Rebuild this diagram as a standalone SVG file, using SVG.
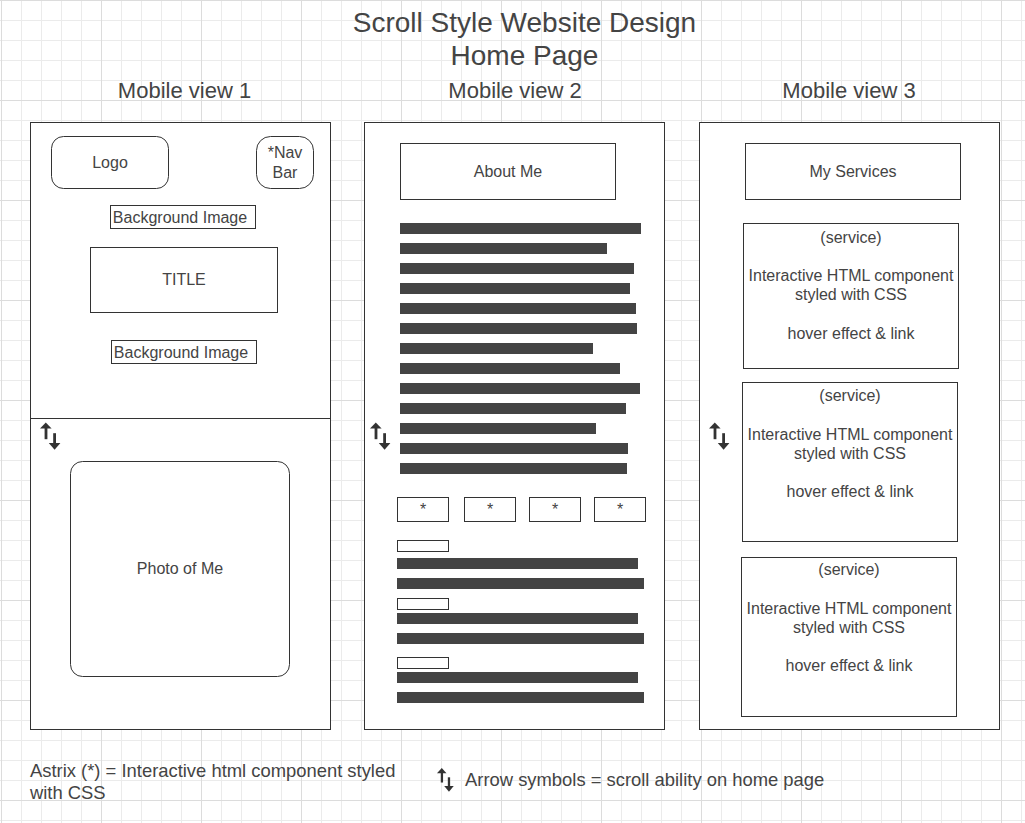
<svg xmlns="http://www.w3.org/2000/svg" xmlns:xlink="http://www.w3.org/1999/xlink" width="1025" height="823" viewBox="0 0 1025 823">
  <defs>
    <!-- background grid: 20px minor cells, 100px major cells -->
    <pattern id="grid" patternUnits="userSpaceOnUse" x="1" y="0" width="100" height="100">
      <path d="M20.5 0V100M40.5 0V100M60.5 0V100M80.5 0V100M0 20.5H100M0 40.5H100M0 60.5H100M0 80.5H100" stroke="#ebebeb" stroke-width="1" fill="none"/>
      <path d="M0.5 0V100M0 0.5H100" stroke="#dcdcdc" stroke-width="1" fill="none"/>
    </pattern>
    <!-- up/down scroll indicator -->
    <g id="scroll-icon" fill="#333">
      <path d="M0 6L5.8 0L11.6 6Z"/>
      <rect x="4.6" y="5" width="2.8" height="11.7"/>
      <rect x="13.2" y="10.7" width="2.8" height="10.5"/>
      <path d="M8.8 20.6L14.6 27.3L20.4 20.6Z"/>
    </g>
  </defs>
  <style>
    text { font-family: "Liberation Sans", Arial, sans-serif; fill: #444; }
    .title { font-size: 28px; text-anchor: middle; }
    .view { font-size: 22px; text-anchor: middle; }
    .lbl { font-size: 16px; text-anchor: middle; }
    .legend { font-size: 18.4px; }
    .box { fill: #fff; stroke: #333; stroke-width: 1; }
    .bar { fill: #444; }
  </style>

  <rect width="1025" height="823" fill="#fff"/>
  <rect width="1025" height="823" fill="url(#grid)"/>

  <g id="heading">
    <text class="title" x="524.5" y="31.5">Scroll Style Website Design</text>
    <text class="title" x="524.5" y="65">Home Page</text>
  </g>

  <!-- ===== Mobile view 1 ===== -->
  <g id="view1">
    <text class="view" x="184.5" y="98">Mobile view 1</text>
    <rect class="box" x="30.5" y="122.5" width="300" height="607"/>
    <line x1="30.5" y1="418.5" x2="330.5" y2="418.5" stroke="#333"/>
  </g>
  <g id="logo">
    <rect class="box" x="51.5" y="136.5" width="117" height="52" rx="12"/>
    <text class="lbl" x="110" y="168">Logo</text>
  </g>
  <g id="navbar">
    <rect class="box" x="256.5" y="136.5" width="57" height="52" rx="14"/>
    <text class="lbl" x="285" y="158.3">*Nav</text>
    <text class="lbl" x="285" y="178.3">Bar</text>
  </g>
  <g id="bg-image-1">
    <rect class="box" x="110.5" y="205.5" width="145" height="23"/>
    <text class="lbl" x="180" y="222.7">Background Image</text>
  </g>
  <g id="title-box">
    <rect class="box" x="90.5" y="247.5" width="187" height="65"/>
    <text class="lbl" x="184" y="285">TITLE</text>
  </g>
  <g id="bg-image-2">
    <rect class="box" x="111.5" y="340.5" width="145" height="23"/>
    <text class="lbl" x="181" y="357.7">Background Image</text>
  </g>
  <g id="scroll-1">
    <use xlink:href="#scroll-icon" x="40" y="422.5"/>
  </g>
  <g id="photo">
    <rect class="box" x="70.5" y="461.5" width="219" height="215" rx="12"/>
    <text class="lbl" x="180" y="574">Photo of Me</text>
  </g>

  <!-- ===== Mobile view 2 ===== -->
  <g id="view2">
    <text class="view" x="515" y="98">Mobile view 2</text>
    <rect class="box" x="364.5" y="122.5" width="300" height="607"/>
  </g>
  <g id="about-me">
    <rect class="box" x="400.5" y="143.5" width="215" height="56"/>
    <text class="lbl" x="508" y="177">About Me</text>
  </g>
  <g id="about-text">
    <rect class="bar" x="400" y="223" width="241" height="11"/>
    <rect class="bar" x="400" y="243" width="207" height="11"/>
    <rect class="bar" x="400" y="263" width="234" height="11"/>
    <rect class="bar" x="400" y="283" width="230" height="11"/>
    <rect class="bar" x="400" y="303" width="236" height="11"/>
    <rect class="bar" x="400" y="323" width="237" height="11"/>
    <rect class="bar" x="400" y="343" width="193" height="11"/>
    <rect class="bar" x="400" y="363" width="220" height="11"/>
    <rect class="bar" x="400" y="383" width="240" height="11"/>
    <rect class="bar" x="400" y="403" width="226" height="11"/>
    <rect class="bar" x="400" y="423" width="196" height="11"/>
    <rect class="bar" x="400" y="443" width="228" height="11"/>
    <rect class="bar" x="400" y="463" width="227" height="11"/>
  </g>
  <g id="scroll-2">
    <use xlink:href="#scroll-icon" x="370" y="422.5"/>
  </g>
  <g id="links">
    <rect class="box" x="397.5" y="497.5" width="51" height="24"/>
    <text class="lbl" x="423" y="515">*</text>
    <rect class="box" x="464.5" y="497.5" width="51" height="24"/>
    <text class="lbl" x="490" y="515">*</text>
    <rect class="box" x="529.5" y="497.5" width="51" height="24"/>
    <text class="lbl" x="555" y="515">*</text>
    <rect class="box" x="594.5" y="497.5" width="51" height="24"/>
    <text class="lbl" x="620" y="515">*</text>
  </g>
  <g id="entries">
    <rect class="box" x="397.5" y="540.5" width="51" height="11"/>
    <rect class="bar" x="397" y="558" width="241" height="11"/>
    <rect class="bar" x="397" y="578" width="247" height="11"/>
    <rect class="box" x="397.5" y="598.5" width="51" height="11"/>
    <rect class="bar" x="397" y="613" width="241" height="11"/>
    <rect class="bar" x="397" y="633" width="247" height="11"/>
    <rect class="box" x="397.5" y="657.5" width="51" height="11"/>
    <rect class="bar" x="397" y="672" width="241" height="11"/>
    <rect class="bar" x="397" y="692" width="247" height="11"/>
  </g>

  <!-- ===== Mobile view 3 ===== -->
  <g id="view3">
    <text class="view" x="849" y="98">Mobile view 3</text>
    <rect class="box" x="699.5" y="122.5" width="300" height="607"/>
  </g>
  <g id="my-services">
    <rect class="box" x="745.5" y="143.5" width="215" height="56"/>
    <text class="lbl" x="853" y="177">My Services</text>
  </g>
  <g id="scroll-3">
    <use xlink:href="#scroll-icon" x="709" y="422.5"/>
  </g>
  <g id="service-1">
    <rect class="box" x="743.5" y="223.5" width="215" height="145"/>
    <text class="lbl" x="851" y="243">(service)</text>
    <text class="lbl" x="851" y="281">Interactive HTML component</text>
    <text class="lbl" x="851" y="300">styled with CSS</text>
    <text class="lbl" x="851" y="339">hover effect &amp; link</text>
  </g>
  <g id="service-2">
    <rect class="box" x="742.5" y="382.5" width="215" height="159"/>
    <text class="lbl" x="850" y="401">(service)</text>
    <text class="lbl" x="850" y="440">Interactive HTML component</text>
    <text class="lbl" x="850" y="459">styled with CSS</text>
    <text class="lbl" x="850" y="497">hover effect &amp; link</text>
  </g>
  <g id="service-3">
    <rect class="box" x="741.5" y="557.5" width="215" height="159"/>
    <text class="lbl" x="849" y="575">(service)</text>
    <text class="lbl" x="849" y="614">Interactive HTML component</text>
    <text class="lbl" x="849" y="633">styled with CSS</text>
    <text class="lbl" x="849" y="671">hover effect &amp; link</text>
  </g>

  <!-- ===== Legend ===== -->
  <g id="legend-asterisk">
    <text class="legend" x="30" y="777.3">Astrix (*) = Interactive html component styled</text>
    <text class="legend" x="30" y="798.5">with CSS</text>
  </g>
  <g id="legend-arrows">
    <use xlink:href="#scroll-icon" transform="translate(437 768) scale(0.82 0.87)"/>
    <text class="legend" x="465" y="785.7">Arrow symbols = scroll ability on home page</text>
  </g>
</svg>
